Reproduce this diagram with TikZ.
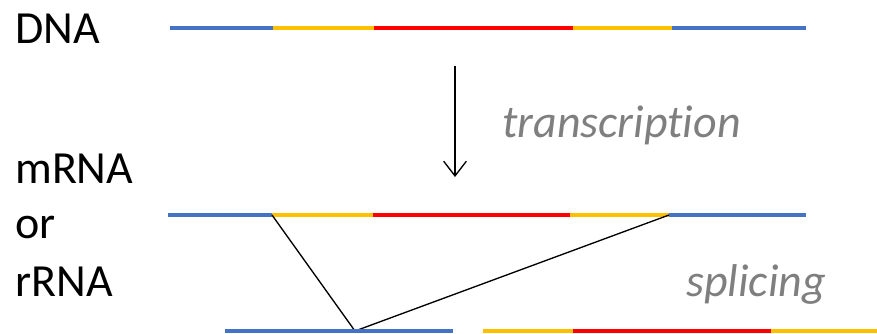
\documentclass[tikz,border=0pt]{standalone}
\usepackage{fontspec}
\setmainfont[Ligatures=NoCommon]{Carlito}
\usetikzlibrary{arrows.meta}
\definecolor{flankblue}{HTML}{4472C4}
\definecolor{utryellow}{HTML}{FFC000}
\definecolor{codered}{HTML}{FF0000}
\definecolor{procgray}{HTML}{7F7F7F}

\begin{document}
\begin{tikzpicture}[x=0.75pt, y=-0.75pt, >={Straight Barb[length=11pt,width=17pt]},
    strand/.style={line width=2.5pt},
    molname/.style={anchor=base west, inner sep=0pt, font=\fontsize{34.5}{40}\selectfont},
    proc/.style={molname, text=procgray, font=\fontsize{34.5}{40}\selectfont\itshape}]
    \useasboundingbox (0,0) rectangle (877,333);
    %\draw[help lines] (0,0) grid[step=50] (877,333);

    % labels on the left
    \node[molname] (dna) at (15,43) {DNA};
    \node[molname] (mrna) at (15,183) {mRNA};
    \node[molname] (or) at (15,238) {or};
    \node[molname] (rrna) at (15,296) {rRNA};

    % DNA strand
    \coordinate (d0) at (170,28);
    \coordinate (d1) at (273,28);
    \coordinate (d2) at (374,28);
    \coordinate (d3) at (573,28);
    \coordinate (d4) at (672,28);
    \coordinate (d5) at (806,28);
    \draw[strand, flankblue] (d0) -- (d1);
    \draw[strand, utryellow] (d1) -- (d2);
    \draw[strand, codered] (d2) -- (d3);
    \draw[strand, utryellow] (d3) -- (d4);
    \draw[strand, flankblue] (d4) -- (d5);

    % transcription
    \coordinate (top) at (455,66);
    \coordinate (bot) at (455,177);
    \draw[->, line width=1pt] (top) -- (bot);
    \node[proc] (trans) at (502,137) {transcription};

    % RNA strand
    \coordinate (m0) at (168,215);
    \coordinate (m1) at (272,215);
    \coordinate (m2) at (373,215);
    \coordinate (m3) at (570,215);
    \coordinate (m4) at (669,215);
    \coordinate (m5) at (806,215);
    \draw[strand, flankblue] (m0) -- (m1);
    \draw[strand, utryellow] (m1) -- (m2);
    \draw[strand, codered] (m2) -- (m3);
    \draw[strand, utryellow] (m3) -- (m4);
    \draw[strand, flankblue] (m4) -- (m5);

    % splicing
    \node[proc] (splice) at (686,296) {splicing};
    \coordinate (jn) at (355,331);
    \draw[line width=1pt] (m1) -- (jn) -- (m4);

    % spliced pieces
    \coordinate (s0) at (225,331);
    \coordinate (s1) at (453,331);
    \coordinate (e0) at (483,331);
    \coordinate (e1) at (573,331);
    \coordinate (e2) at (771,331);
    \coordinate (e3) at (877,331);
    \draw[strand, flankblue] (s0) -- (s1);
    \draw[strand, utryellow] (e0) -- (e1);
    \draw[strand, codered] (e1) -- (e2);
    \draw[strand, utryellow] (e2) -- (e3);
\end{tikzpicture}
\end{document}
